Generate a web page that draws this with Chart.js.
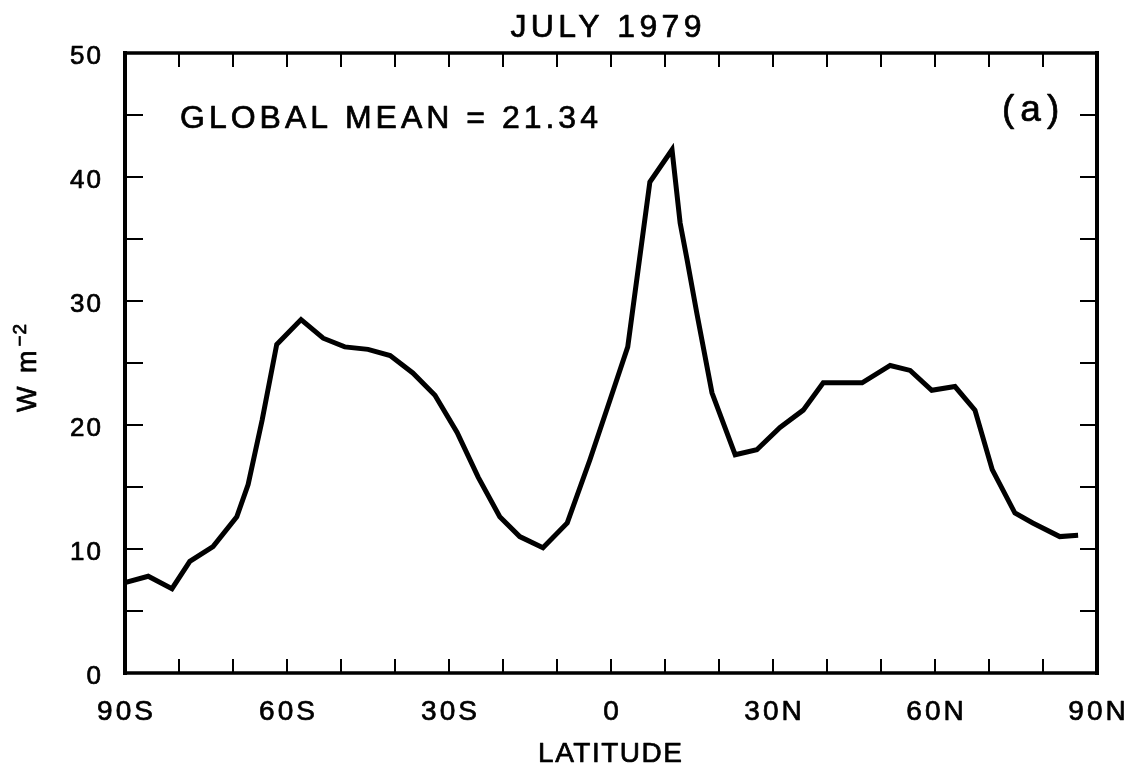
<!DOCTYPE html>
<html>
<head>
<meta charset="utf-8">
<title>July 1979</title>
<script src="https://cdn.jsdelivr.net/npm/chart.js@4"></script>
<style>
  html, body { margin: 0; padding: 0; background: #fff; }
  #wrap { width: 1134px; height: 767px; }
</style>
</head>
<body>
<div id="wrap"><canvas id="chart" width="1134" height="767"></canvas></div>
<script>
// zonal mean values, W m-2, by latitude (negative = south)
const latitudes = [
  -90, -85.7, -81.3, -78, -73.7, -69.3, -67.2, -64.6, -61.9, -57.4,
  -53.3, -49.3, -45, -40.9, -36.7, -32.6, -28.5, -24.6, -20.6, -16.9,
  -12.6, -8.1, -3.9, -0.2, 3.1, 7.2, 11.3, 12.8, 14.1, 15.9,
  18.7, 23, 27, 31.3, 35.6, 39.3, 46.5, 51.7, 55.4, 59.4,
  63.7, 67.4, 70.6, 74.8, 78.1, 83.1, 86.5
];
const fluxValues = [
  7.3, 7.8, 6.8, 9.0, 10.2, 12.6, 15.2, 20.4, 26.5, 28.5,
  27.0, 26.3, 26.1, 25.6, 24.2, 22.4, 19.4, 15.8, 12.6, 11.0,
  10.1, 12.1, 17.2, 22.0, 26.3, 39.6, 42.2, 36.3, 33.3, 29.0,
  22.6, 17.6, 18.0, 19.8, 21.2, 23.4, 23.4, 24.8, 24.4, 22.8,
  23.1, 21.2, 16.4, 12.9, 12.1, 11.0, 11.1
];

const xTickValues = [-90, -60, -30, 0, 30, 60, 90];
const xTickLabels = ["90S", "60S", "30S", "0", "30N", "60N", "90N"];
const yTickValues = [0, 10, 20, 30, 40, 50];

const FONT = '"Liberation Sans", Arial, Helvetica, sans-serif';

// fill plus a thin stroke so the lettering reads a little heavier
function ink(ctx, text, x, y) {
  ctx.fillText(text, x, y);
  ctx.strokeText(text, x, y);
}

function drawSpaced(ctx, text, x, y, size, spacing, align) {
  ctx.font = size + "px " + FONT;
  ctx.letterSpacing = spacing + "px";
  const w = ctx.measureText(text).width - spacing;
  let left = x;
  if (align === "center") left = x - w / 2;
  else if (align === "right") left = x - w;
  ctx.textAlign = "left";
  ink(ctx, text, left, y);
  ctx.letterSpacing = "0px";
}

// frame, inward ticks and all the lettering
const framePlugin = {
  id: "frame",
  afterDraw(chart) {
    const ctx = chart.ctx;
    const a = chart.chartArea;
    const xs = chart.scales.x;
    const ys = chart.scales.y;
    ctx.save();
    ctx.strokeStyle = "#000";
    ctx.fillStyle = "#000";
    ctx.lineCap = "square";

    // box
    ctx.lineWidth = 4;
    ctx.beginPath();
    ctx.moveTo(a.left, a.top); ctx.lineTo(a.left, a.bottom);
    ctx.moveTo(a.right, a.top); ctx.lineTo(a.right, a.bottom);
    ctx.stroke();
    ctx.lineWidth = 3.5;
    ctx.beginPath();
    ctx.moveTo(a.left, a.bottom); ctx.lineTo(a.right, a.bottom);
    ctx.moveTo(a.left, a.top); ctx.lineTo(a.right, a.top);
    ctx.stroke();

    // ticks pointing into the plot
    ctx.lineWidth = 2;
    ctx.lineCap = "butt";
    ctx.beginPath();
    xs.ticks.forEach(t => {
      if (t.value <= xs.min || t.value >= xs.max) return;
      const px = xs.getPixelForValue(t.value);
      ctx.moveTo(px, a.bottom); ctx.lineTo(px, a.bottom - 14);
      ctx.moveTo(px, a.top); ctx.lineTo(px, a.top + 14);
    });
    ys.ticks.forEach(t => {
      if (t.value <= ys.min || t.value >= ys.max) return;
      const py = ys.getPixelForValue(t.value);
      ctx.moveTo(a.left, py); ctx.lineTo(a.left + 18, py);
      ctx.moveTo(a.right, py); ctx.lineTo(a.right - 17, py);
    });
    ctx.stroke();

    // tick labels
    ctx.lineWidth = 0.7;
    ctx.lineJoin = "round";
    ctx.textBaseline = "alphabetic";
    xTickValues.forEach((v, i) => {
      drawSpaced(ctx, xTickLabels[i], xs.getPixelForValue(v), 720, 28, 3, "center");
    });
    yTickValues.forEach(v => {
      drawSpaced(ctx, String(v), 101, ys.getPixelForValue(v) + 11, 26, 2, "right");
    });

    // titles and annotations
    drawSpaced(ctx, "JULY 1979", 606, 37, 32, 4.4, "center");
    drawSpaced(ctx, "LATITUDE", 610, 762, 28, 1.5, "center");
    drawSpaced(ctx, "GLOBAL MEAN = 21.34", 180, 128, 32, 4, "left");
    drawSpaced(ctx, "(a)", 1002, 121, 37, 6, "left");

    // y axis title with superscript
    ctx.translate(36, 412);
    ctx.rotate(-Math.PI / 2);
    ctx.font = "27px " + FONT;
    ctx.letterSpacing = "3px";
    ink(ctx, "W m", 0, 0);
    const w = ctx.measureText("W m").width;
    ctx.font = "19px " + FONT;
    ctx.letterSpacing = "1px";
    ink(ctx, "\u22122", w + 1, -10);
    ctx.restore();
  }
};

new Chart(document.getElementById("chart"), {
  type: "line",
  data: {
    datasets: [{
      data: latitudes.map((lat, i) => ({ x: lat, y: fluxValues[i] })),
      borderColor: "#000",
      borderWidth: 5,
      pointRadius: 0,
      tension: 0,
      fill: false
    }]
  },
  options: {
    responsive: false,
    animation: false,
    devicePixelRatio: 1,
    events: [],
    layout: { padding: { top: 53, right: 37, left: 0, bottom: 0 } },
    plugins: { legend: { display: false }, tooltip: { enabled: false } },
    scales: {
      x: {
        type: "linear",
        min: -90,
        max: 90,
        ticks: { display: false, stepSize: 10 },
        grid: { display: false },
        border: { display: false },
        afterFit(s) { s.height = 94; }
      },
      y: {
        min: 0,
        max: 50,
        ticks: { display: false, stepSize: 5 },
        grid: { display: false },
        border: { display: false },
        afterFit(s) { s.width = 125; }
      }
    }
  },
  plugins: [framePlugin]
});
</script>
</body>
</html>
